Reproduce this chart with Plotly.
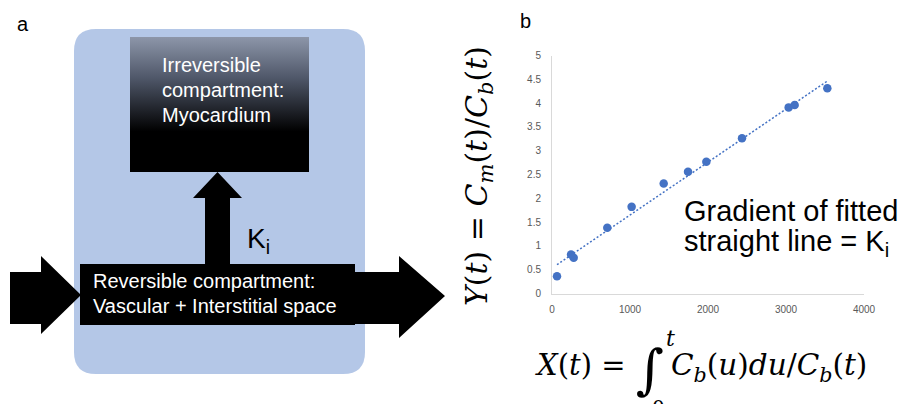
import numpy as np
import plotly.graph_objects as go

# ---- data (panel b) ----
x_vals = [64, 244, 278, 709, 1021, 1432, 1744, 1979, 2436, 3034, 3111, 3530]
y_vals = [0.36, 0.82, 0.75, 1.38, 1.82, 2.31, 2.56, 2.77, 3.26, 3.91, 3.96, 4.31]
x_ticks = [0, 1000, 2000, 3000, 4000]
x_ticklabels = ["0", "1000", "2000", "3000", "4000"]
y_ticks = [0, 0.5, 1, 1.5, 2, 2.5, 3, 3.5, 4, 4.5, 5]
y_ticklabels = ["0", "0.5", "1", "1.5", "2", "2.5", "3", "3.5", "4", "4.5", "5"]

# page has an 8px body margin: figure is sized to fill the rest of the window
REF_W, REF_H, OFF = 909, 404, 8
W, H = REF_W - OFF, REF_H - OFF
BLUE = "#4472c4"
SANS = "Liberation Sans, Arial, sans-serif"
SERIF = "DejaVu Serif, serif"

def px(x):
    return (x - OFF) / W

def py(y):
    return 1 - (y - OFF) / H

# fitted trendline via least squares
slope, intercept = np.polyfit(x_vals, y_vals, 1)
fit_x = [min(x_vals), max(x_vals)]
fit_y = [slope * v + intercept for v in fit_x]

fig = go.Figure()

# gradient box (diagram) on pixel-like hidden axes
fig.add_trace(go.Scatter(
    x=[130, 309, 309, 130, 130], y=[37, 37, 172, 172, 37],
    xaxis="x2", yaxis="y2", mode="lines", line=dict(width=0),
    fill="toself",
    fillgradient=dict(type="vertical",
                      colorscale=[[0, "#000000"], [0.3, "#000000"], [0.7, "#50586a"], [1, "#8d96a9"]]),
    hoverinfo="skip", showlegend=False))

# scatter + trendline
fig.add_trace(go.Scatter(x=fit_x, y=fit_y, mode="lines",
                         line=dict(color=BLUE, width=1.5, dash="2px,2px"),
                         showlegend=False, hoverinfo="skip"))
fig.add_trace(go.Scatter(x=x_vals, y=y_vals, mode="markers",
                         marker=dict(color=BLUE, size=8.5),
                         showlegend=False))

shapes = []
# rounded light-blue background
x0, x1, y0, y1, r = 74, 365, 29, 374, 22
shapes.append(dict(type="path", xref="x2", yref="y2", layer="below",
                   path=(f"M {x0+r},{y0} L {x1-r},{y0} Q {x1},{y0} {x1},{y0+r} "
                         f"L {x1},{y1-r} Q {x1},{y1} {x1-r},{y1} L {x0+r},{y1} "
                         f"Q {x0},{y1} {x0},{y1-r} L {x0},{y0+r} Q {x0},{y0} {x0+r},{y0} Z"),
                   fillcolor="#b4c7e7", line=dict(width=0)))
# up arrow
shapes.append(dict(type="path", xref="x2", yref="y2", layer="below",
                   path="M 205,266 L 205,198 L 193,198 L 217.5,172 L 242,198 L 230,198 L 230,266 Z",
                   fillcolor="black", line=dict(width=0)))
# left arrow
shapes.append(dict(type="path", xref="x2", yref="y2", layer="below",
                   path="M 10,272 L 41,272 L 41,256 L 81,295 L 41,334 L 41,324 L 10,324 Z",
                   fillcolor="black", line=dict(width=0)))
# bottom box
shapes.append(dict(type="rect", xref="x2", yref="y2", layer="below", x0=80, x1=355, y0=264, y1=325,
                   fillcolor="black", line=dict(width=0)))
# right arrow
shapes.append(dict(type="path", xref="x2", yref="y2", layer="below",
                   path="M 354,272 L 399,272 L 399,256 L 445,296 L 399,338 L 399,324 L 354,324 Z",
                   fillcolor="black", line=dict(width=0)))


def T(text, x, y, size, color="black", font=SANS, pos="middle right"):
    fig.add_trace(go.Scatter(x=[x], y=[y], text=[text], mode="text", textposition=pos,
                             xaxis="x2", yaxis="y2", cliponaxis=True, hoverinfo="skip",
                             showlegend=False,
                             textfont=dict(family=font, size=size, color=color)))

T("a", 17, 26, 20)
T("b", 520, 23, 20)
T("Irreversible", 162, 67, 20, color="white")
T("compartment:", 162, 92, 20, color="white")
T("Myocardium", 162, 117, 20, color="white")
T("K<sub>i</sub>", 247, 241, 28)
T("Reversible compartment:", 93, 283, 20, color="white")
T("Vascular + Interstitial space", 93, 308, 20, color="white")
T("Gradient of fitted", 684, 214, 29)
T("straight line = K<sub>i</sub>", 684, 244, 29)

# x axis title (math)
T("<i>X</i>(<i>t</i>) =", 537, 368, 29, font=SERIF)
T("∫", 636, 374, 54, font=SERIF)
T("<i>t</i>", 666, 340, 22, font=SERIF)
T("0", 652, 410, 20, font=SERIF)
T("<i>C<sub>b</sub></i>(<i>u</i>)<i>du</i>/<i>C<sub>b</sub></i>(<i>t</i>)", 671, 368, 29.5, font=SERIF)

ann = [dict(text="<i>Y</i>(<i>t</i>) = <i>C<sub>m</sub></i>(<i>t</i>)/<i>C<sub>b</sub></i>(<i>t</i>)",
            x=px(478), y=py(176), xref="paper", yref="paper", xanchor="center", yanchor="middle",
            showarrow=False, textangle=-90, font=dict(family=SERIF, size=30, color="black"))]

fig.update_layout(
    width=W, height=H, autosize=False,
    margin=dict(l=0, r=0, t=0, b=0, autoexpand=False),
    paper_bgcolor="white", plot_bgcolor="rgba(0,0,0,0)",
    shapes=shapes, annotations=ann,
    xaxis=dict(domain=[px(552), px(864)], range=[0, 4000], tickvals=x_ticks, ticktext=x_ticklabels,
               showline=True, linecolor="#d9d9d9", linewidth=1, showgrid=False, zeroline=False,
               ticks="", ticklabelstandoff=6, tickfont=dict(family=SANS, size=10, color="#595959")),
    yaxis=dict(domain=[py(293.5), py(55.5)], range=[0, 5], tickvals=y_ticks, ticktext=y_ticklabels,
               showline=True, linecolor="#d9d9d9", linewidth=1, showgrid=False, zeroline=False,
               ticks="", ticklabelstandoff=8, tickfont=dict(family=SANS, size=10, color="#595959")),
    xaxis2=dict(domain=[0, 1], range=[OFF, REF_W], visible=False, fixedrange=True, anchor="y2"),
    yaxis2=dict(domain=[0, 1], range=[REF_H, OFF], visible=False, fixedrange=True, anchor="x2"),
)

fig.write_html("out.html")
